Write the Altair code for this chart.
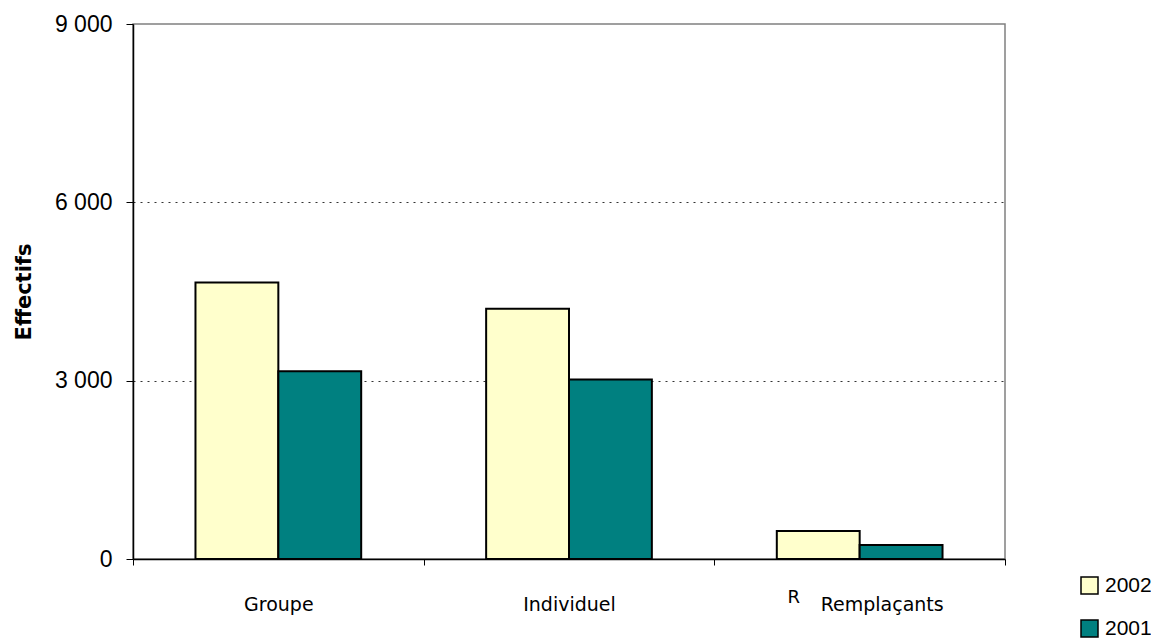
import altair as alt
import pandas as pd

categories = ["Groupe", "Individuel", "Remplaçants"]
years = ["2002", "2001"]
values_2002 = [4650, 4210, 470]
values_2001 = [3160, 3020, 235]
y_ticks = [0, 3000, 6000, 9000]
year_colors = ["#FFFFCC", "#008080"]

rows = []
for c, v in zip(categories, values_2002):
    rows.append({"cat": c, "year": "2002", "value": v})
for c, v in zip(categories, values_2001):
    rows.append({"cat": c, "year": "2001", "value": v})
df = pd.DataFrame(rows)

note = pd.DataFrame({"cat": ["Remplaçants"], "t": ["R"]})

W, H = 872, 535

xscale = alt.Scale(domain=categories, paddingInner=0, paddingOuter=0)

bars = alt.Chart(df).mark_bar(stroke="black", strokeWidth=2).encode(
    x=alt.X("cat:N", scale=xscale, sort=categories, title=None,
            axis=alt.Axis(
                labelAngle=0, tickBand="extent", tickSize=6, tickColor="black",
                domainColor="black", domainWidth=1.5,
                labelFont="DejaVu Sans", labelFontSize=19, labelColor="black",
                labelPadding=30,
                labelOffset={"condition": {"test": "datum.value == 'Remplaçants'", "value": 22}, "value": 0},
            )),
    xOffset=alt.XOffset("year:N", sort=years,
                        scale=alt.Scale(paddingInner=0, paddingOuter=0.754)),
    y=alt.Y("value:Q", scale=alt.Scale(domain=[0, 9000]), title="Effectifs",
            axis=alt.Axis(
                values=y_ticks, tickSize=7, tickColor="black",
                domainColor="black", domainWidth=1.5,
                labelFont="Liberation Sans", labelFontSize=23, labelColor="black",
                labelPadding=14,
                labelExpr="replace(format(datum.value, ','), ',', ' ')",
                titleFont="DejaVu Sans", titleFontSize=21, titleFontWeight="bold",
                titleColor="black", titlePadding=20,
                grid=True, gridColor="#333333", gridDash=[2, 5], gridWidth=1,
                gridOpacity={"condition": {"test": "datum.value == 0 || datum.value == 9000", "value": 0}, "value": 1},
            )),
    fill=alt.Fill("year:N", sort=years, scale=alt.Scale(domain=years, range=year_colors),
                  legend=alt.Legend(
                      title=None, orient="none", legendX=946, legendY=551,
                      symbolType="square", symbolSize=289, symbolStrokeColor="black",
                      symbolStrokeWidth=1.5, labelFont="Liberation Sans", labelFontSize=21,
                      labelColor="black", labelOffset=5, rowPadding=20, padding=0)),
)

rlabel = alt.Chart(note).mark_text(
    font="DejaVu Sans", fontSize=18, color="black", dx=-66, baseline="middle"
).encode(
    x=alt.X("cat:N", scale=xscale, sort=categories),
    y=alt.value(H + 39),
    text="t:N",
)

chart = alt.layer(bars, rlabel).properties(
    width=W, height=H,
    autosize=alt.AutoSizeParams(type="none"),
    padding={"left": 125, "top": 16, "right": 146, "bottom": 82},
).configure_view(
    stroke="#808080", strokeWidth=1.5
)

chart.save("out.html", embed_options={"renderer": "svg", "actions": False})
